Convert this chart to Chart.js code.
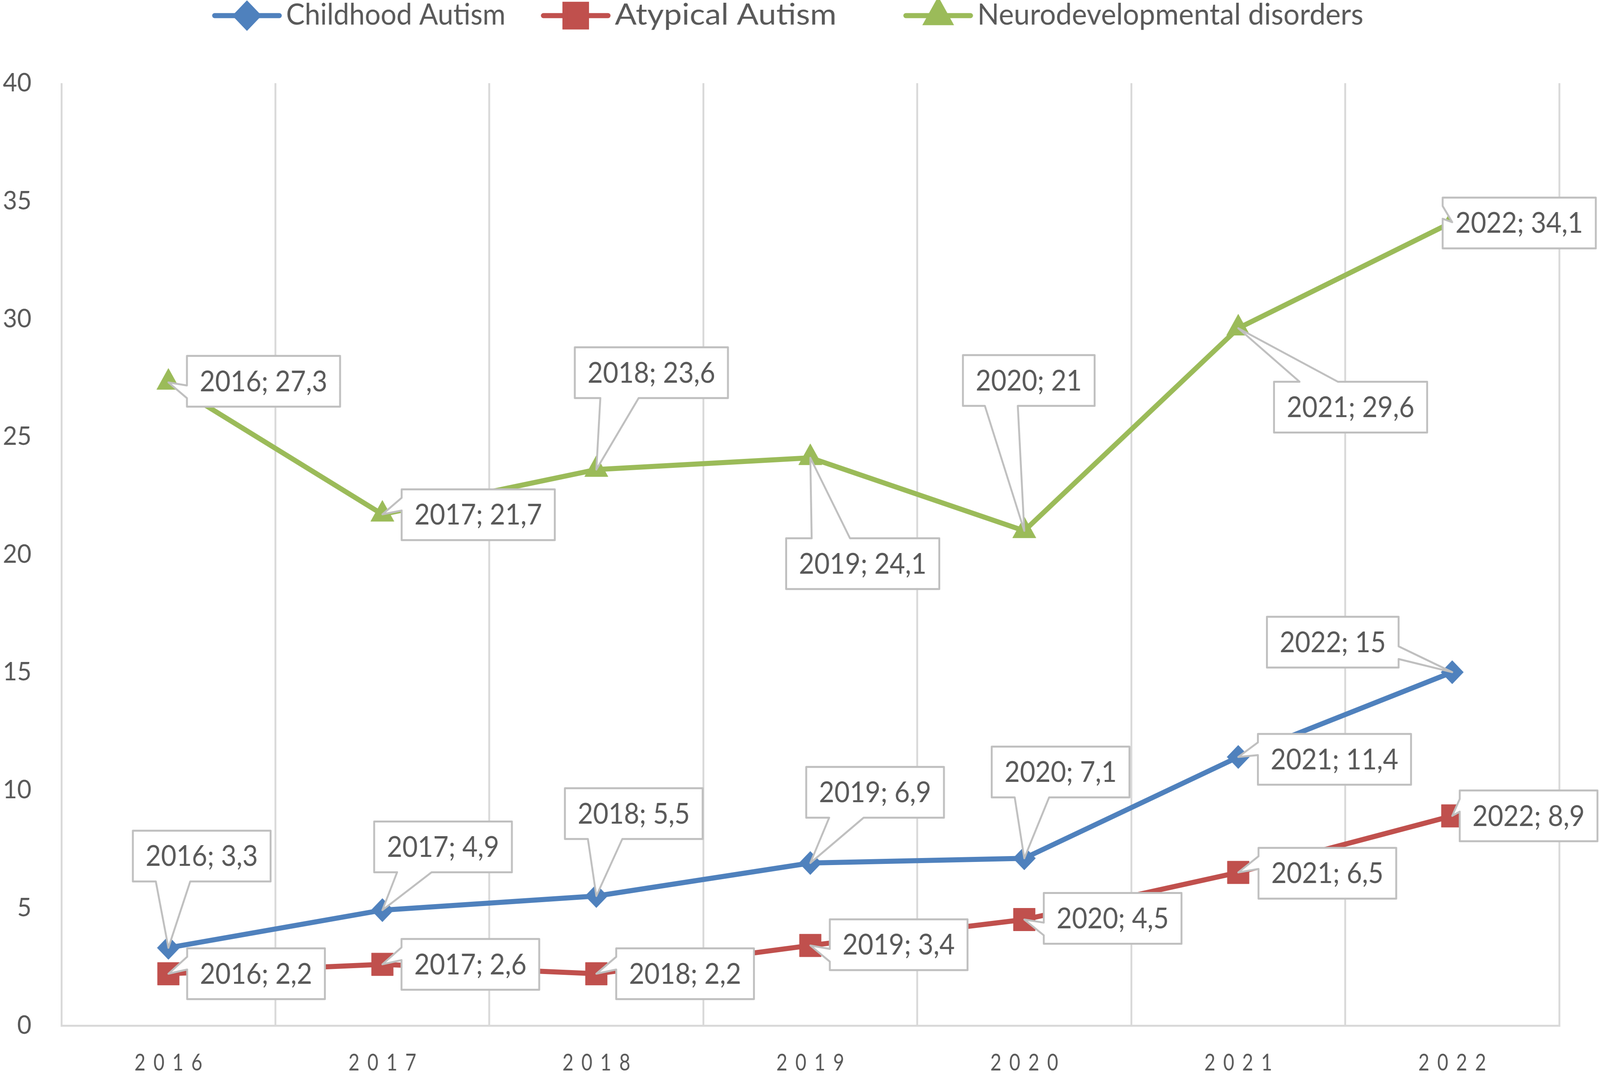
<!DOCTYPE html>
<html>
<head>
<meta charset="utf-8">
<script src="https://cdn.jsdelivr.net/npm/chart.js@4"></script>
<style>
  html, body { margin: 0; padding: 0; background: #fff; overflow: hidden; }
  #wrap { width: 4273px; height: 2750px; transform-origin: 0 0; }
</style>
</head>
<body>
<div id="wrap"><canvas id="chart"></canvas></div>
<script>
const years = ['2016', '2017', '2018', '2019', '2020', '2021', '2022'];
const childhoodAutism = [3.3, 4.9, 5.5, 6.9, 7.1, 11.4, 15];
const atypicalAutism = [2.2, 2.6, 2.2, 3.4, 4.5, 6.5, 8.9];
const neuroDisorders = [27.3, 21.7, 23.6, 24.1, 21, 29.6, 34.1];
const seriesNames = ['Childhood Autism', 'Atypical Autism', 'Neurodevelopmental disorders'];
const yMin = 0, yMax = 40, yStep = 5;

// where each callout box sits, relative to its point (px)
const labelOffsets = [
  [[89, -235], [162, -162], [100, -211], [173, -181], [97, -221], [257, 6], [-319, -77]],
  [[234, 0], [235, 0], [237, 0], [236, -2], [236, -3], [238, 2], [204, 0]],
  [[254, -3], [256, 1], [147, -248], [140, 271], [12, -385], [300, 202], [179, 2]],
];

// legend layout: left edge of each sample line, and the text width it should take
const legendX = [567, 1445, 2413];
const legendTextW = [586, 592, 1031];

// the page is laid out at 4273x2750; stretch it onto whatever viewport we get
const wrap = document.getElementById('wrap');
wrap.style.transform = `scale(${window.innerWidth / 4273}, ${window.innerHeight / 2750})`;

const FONT = "Lato, 'Open Sans', sans-serif";
const TEXT = '#595959';
const GRID = '#d9d9d9';

const fmt = v => String(v).replace('.', ',');

// narrow text: the source font is much narrower than anything installed
function narrowText(ctx, text, x, y, k, align) {
  const w = ctx.measureText(text).width * k;
  ctx.save();
  ctx.translate(align === 'center' ? x - w / 2 : x, y);
  ctx.scale(k, 1);
  ctx.textAlign = 'left';
  ctx.fillText(text, 0, 0);
  ctx.restore();
  return w;
}

function drawCallout(ctx, l, t, w, h, tx, ty) {
  const r = l + w, b = t + h, hc = l + w / 2, vc = t + h / 2;
  const dxPos = tx - hc, dyPos = ty - vc;
  const dz = Math.abs(dyPos) - Math.abs(dxPos * h / w);
  const x1 = l + w * (dxPos > 0 ? 7 : 2) / 12, x2 = l + w * (dxPos > 0 ? 10 : 5) / 12;
  const y1 = t + h * (dyPos > 0 ? 7 : 2) / 12, y2 = t + h * (dyPos > 0 ? 10 : 5) / 12;
  ctx.beginPath();
  ctx.moveTo(l, t);
  ctx.lineTo(x1, t);
  if (dz > 0 && dyPos < 0) ctx.lineTo(tx, ty);
  ctx.lineTo(x2, t);
  ctx.lineTo(r, t);
  ctx.lineTo(r, y1);
  if (dz <= 0 && dxPos > 0) ctx.lineTo(tx, ty);
  ctx.lineTo(r, y2);
  ctx.lineTo(r, b);
  ctx.lineTo(x2, b);
  if (dz > 0 && dyPos > 0) ctx.lineTo(tx, ty);
  ctx.lineTo(x1, b);
  ctx.lineTo(l, b);
  ctx.lineTo(l, y2);
  if (dz <= 0 && dxPos <= 0) ctx.lineTo(tx, ty);
  ctx.lineTo(l, y1);
  ctx.closePath();
  ctx.fill();
  ctx.stroke();
}

const calloutPlugin = {
  id: 'callouts',
  afterDatasetsDraw(chart) {
    const ctx = chart.ctx;
    ctx.save();
    ctx.font = `73px ${FONT}`;
    const k = 341 / ctx.measureText('2017; 21,7').width;
    ctx.lineWidth = 5;
    ctx.lineJoin = 'round';
    ctx.textBaseline = 'middle';
    chart.data.datasets.forEach((ds, di) => {
      chart.getDatasetMeta(di).data.forEach((pt, i) => {
        const text = `${chart.data.labels[i]}; ${fmt(ds.data[i])}`;
        const [dx, dy] = labelOffsets[di][i];
        const w = ctx.measureText(text).width * k + 68, h = 130;
        const cx = pt.x + dx, cy = pt.y + dy;
        ctx.fillStyle = '#ffffff';
        ctx.strokeStyle = '#bfbfbf';
        drawCallout(ctx, cx - w / 2, cy - h / 2, w, h, pt.x, pt.y);
        ctx.fillStyle = TEXT;
        narrowText(ctx, text, cx, cy + 2, k, 'center');
      });
    });
    ctx.restore();
  }
};

const legendPlugin = {
  id: 'lineLegend',
  afterDraw(chart) {
    const ctx = chart.ctx;
    const lineLen = 185, textX = 197, y = 40;
    ctx.save();
    ctx.font = `76px ${FONT}`;
    chart.data.datasets.forEach((ds, i) => {
      const x = legendX[i];
      ctx.strokeStyle = ds.borderColor;
      ctx.fillStyle = ds.borderColor;
      ctx.lineWidth = ds.borderWidth;
      ctx.lineCap = 'round';
      ctx.beginPath();
      ctx.moveTo(x + 6, y);
      ctx.lineTo(x + lineLen - 6, y);
      ctx.stroke();
      Chart.helpers.drawPoint(ctx, { pointStyle: ds.pointStyle, radius: ds.pointRadius, rotation: 0, borderWidth: 1 }, x + lineLen / 2, y);
      ctx.fillStyle = TEXT;
      ctx.textBaseline = 'middle';
      const k = legendTextW[i] / ctx.measureText(ds.label).width;
      narrowText(ctx, ds.label, x + textX, y - 2, k, 'left');
    });
    ctx.restore();
  }
};

// x labels drawn letter-spaced, at the category scale's tick pixels
const xLabelPlugin = {
  id: 'spacedXLabels',
  afterDraw(chart) {
    const ctx = chart.ctx, scale = chart.scales.x, spacing = 21, k = 0.85;
    ctx.save();
    ctx.font = `60px ${FONT}`;
    ctx.fillStyle = TEXT;
    ctx.textBaseline = 'middle';
    scale.ticks.forEach((tick, i) => {
      const chars = chart.data.labels[i].split('');
      const widths = chars.map(c => ctx.measureText(c).width * k);
      const total = widths.reduce((a, b) => a + b, 0) + spacing * (chars.length - 1);
      let x = scale.getPixelForTick(i) - total / 2;
      chars.forEach((c, j) => {
        narrowText(ctx, c, x, 2722, k, 'left');
        x += widths[j] + spacing;
      });
    });
    ctx.restore();
  }
};

const colors = ['#4f81bd', '#c0504d', '#9bbb59'];
const styles = ['rectRot', 'rect', 'triangle'];
const radii = [30, 41, 36];
const seriesData = [childhoodAutism, atypicalAutism, neuroDisorders];

new Chart(document.getElementById('chart'), {
  type: 'line',
  data: {
    labels: years,
    datasets: seriesData.map((d, i) => ({
      label: seriesNames[i],
      data: d,
      borderColor: colors[i],
      backgroundColor: colors[i],
      pointBackgroundColor: colors[i],
      pointBorderColor: colors[i],
      borderWidth: 13,
      borderJoinStyle: 'round',
      borderCapStyle: 'round',
      pointStyle: styles[i],
      pointRadius: radii[i],
      pointBorderWidth: 1,
      tension: 0,
      fill: false,
    })),
  },
  options: {
    responsive: true,
    maintainAspectRatio: false,
    animation: false,
    layout: { padding: { top: 213, right: 109, bottom: 0, left: 0 } },
    plugins: { legend: { display: false }, tooltip: { enabled: false } },
    scales: {
      x: {
        offset: true,
        grid: { display: true, offset: true, color: GRID, lineWidth: 5, drawTicks: false },
        border: { display: true, color: GRID, width: 5 },
        ticks: { display: false },
        afterFit: s => { s.height = 124; },
      },
      y: {
        min: yMin,
        max: yMax,
        grid: { display: false, drawTicks: false },
        border: { display: false },
        ticks: { stepSize: yStep, color: TEXT, padding: 80, font: { family: FONT, size: 66 } },
        afterFit: s => { s.width = 164; },
      },
    },
  },
  plugins: [calloutPlugin, legendPlugin, xLabelPlugin],
});
</script>
</body>
</html>
